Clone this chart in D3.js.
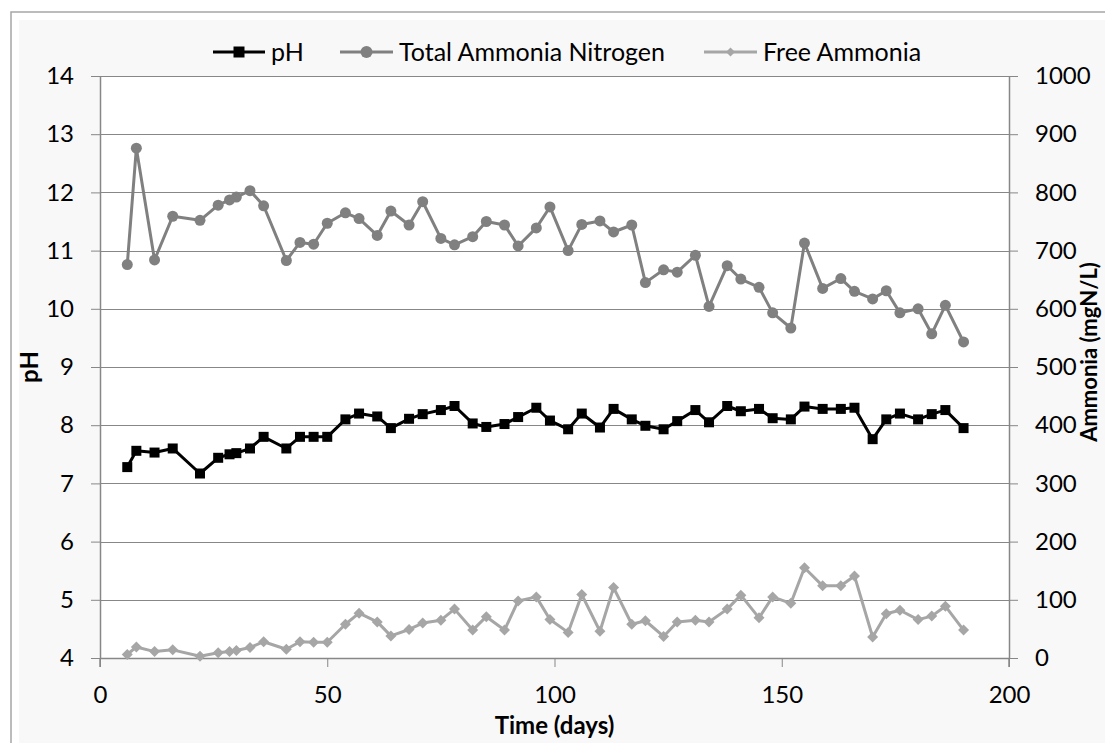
<!DOCTYPE html>
<html lang="en">
<head>
    <meta charset="UTF-8">
    <title>pH and Ammonia over time</title>
    <script src="https://d3js.org/d3.v7.min.js"></script>
    <style>
        body { margin: 0; background: #ffffff; }
        svg text { font-family: Lato, "Open Sans", sans-serif; fill: #000; }
    </style>
</head>
<body>
    <div id="chart-container"></div>
    <script>
        // sampling days (shared by all three series)
        const days = [6, 8, 12, 16, 22, 26, 28.5, 30, 33, 36, 41, 44, 47, 50, 54, 57, 61, 64, 68, 71,
            75, 78, 82, 85, 89, 92, 96, 99, 103, 106, 110, 113, 117, 120, 124, 127, 131, 134, 138, 141,
            145, 148, 152, 155, 159, 163, 166, 170, 173, 176, 180, 183, 186, 190];

        const phValues = [7.28, 7.56, 7.53, 7.60, 7.17, 7.44, 7.50, 7.52, 7.60, 7.80, 7.60, 7.80, 7.80, 7.80,
            8.10, 8.20, 8.15, 7.95, 8.11, 8.19, 8.26, 8.33, 8.03, 7.97, 8.02, 8.14, 8.30, 8.08, 7.93, 8.20,
            7.96, 8.28, 8.10, 7.99, 7.93, 8.07, 8.26, 8.05, 8.33, 8.24, 8.28, 8.12, 8.10, 8.32, 8.28, 8.28,
            8.30, 7.76, 8.10, 8.20, 8.10, 8.19, 8.26, 7.95];

        // mgN/L
        const tanValues = [676, 876, 684, 759, 752, 778, 787, 792, 803, 777, 683, 714, 711, 747, 765, 755,
            726, 768, 744, 784, 721, 710, 724, 750, 744, 708, 739, 775, 700, 745, 751, 732, 744, 645, 667,
            663, 692, 604, 674, 651, 637, 593, 567, 713, 635, 652, 630, 617, 631, 593, 600, 557, 606, 543];

        const faValues = [6, 19, 11, 14, 3, 9, 11, 13, 18, 28, 15, 28, 27, 27, 58, 77, 62, 38, 49, 60, 65,
            84, 48, 71, 48, 98, 105, 66, 44, 109, 46, 121, 58, 64, 37, 62, 65, 62, 84, 108, 69, 105, 94,
            155, 124, 124, 141, 36, 76, 82, 66, 72, 89, 48];

        const phTicks = [4, 5, 6, 7, 8, 9, 10, 11, 12, 13, 14];
        const ammoniaTicks = [0, 100, 200, 300, 400, 500, 600, 700, 800, 900, 1000];
        const dayTicks = [0, 50, 100, 150, 200];

        const seriesNames = ["pH", "Total Ammonia Nitrogen", "Free Ammonia"];

        const width = 1105;
        const height = 743;
        const plot = { left: 100, right: 1009, top: 76, bottom: 658 };

        const svg = d3.select("#chart-container")
            .append("svg")
            .attr("width", width)
            .attr("height", height);

        // chart area with its border
        svg.append("rect")
            .attr("x", 11).attr("y", 12)
            .attr("width", width).attr("height", height)
            .attr("fill", "#ffffff")
            .attr("stroke", "#a6a6a6")
            .attr("stroke-width", 1.5);
        svg.append("rect")
            .attr("x", 19).attr("y", 20)
            .attr("width", width).attr("height", height)
            .attr("fill", "#f8f8f8");

        // plot area
        svg.append("rect")
            .attr("x", plot.left).attr("y", plot.top)
            .attr("width", plot.right - plot.left)
            .attr("height", plot.bottom - plot.top)
            .attr("fill", "#ffffff");

        const xScale = d3.scaleLinear().domain([0, 200]).range([plot.left, plot.right]);
        const yLeft = d3.scaleLinear().domain([4, 14]).range([plot.bottom, plot.top]);
        const yRight = d3.scaleLinear().domain([0, 1000]).range([plot.bottom, plot.top]);

        const gridColor = "#878787";

        // horizontal gridlines
        svg.append("g")
            .selectAll("line")
            .data(phTicks)
            .join("line")
            .attr("x1", plot.left).attr("x2", plot.right)
            .attr("y1", d => Math.round(yLeft(d)) + 0.5)
            .attr("y2", d => Math.round(yLeft(d)) + 0.5)
            .attr("stroke", gridColor)
            .attr("stroke-width", 1);

        // axes
        const leftAxis = svg.append("g")
            .attr("transform", `translate(${plot.left},0)`)
            .call(d3.axisLeft(yLeft).tickValues(phTicks).tickSize(9).tickSizeOuter(0).tickPadding(17));

        const rightAxis = svg.append("g")
            .attr("transform", `translate(${plot.right},0)`)
            .call(d3.axisRight(yRight).tickValues(ammoniaTicks).tickFormat(d3.format("d"))
                .tickSize(9).tickSizeOuter(0).tickPadding(17));

        const bottomAxis = svg.append("g")
            .attr("transform", `translate(0,${plot.bottom})`)
            .call(d3.axisBottom(xScale).tickValues(dayTicks).tickSize(9).tickSizeOuter(0).tickPadding(19));

        [leftAxis, rightAxis, bottomAxis].forEach(function (ax) {
            ax.select(".domain").attr("stroke", gridColor).attr("stroke-width", 1.5);
            ax.selectAll(".tick line").attr("stroke", gridColor).attr("stroke-width", 1);
            ax.selectAll(".tick text")
                .attr("font-size", 24)
                .attr("font-family", "Lato, sans-serif")
                .attr("fill", "#000");
        });

        // axis lines run down to the bottom tick
        svg.append("line")
            .attr("x1", plot.left).attr("x2", plot.left)
            .attr("y1", plot.bottom).attr("y2", plot.bottom + 9)
            .attr("stroke", gridColor).attr("stroke-width", 1.5);
        svg.append("line")
            .attr("x1", plot.right).attr("x2", plot.right)
            .attr("y1", plot.bottom).attr("y2", plot.bottom + 9)
            .attr("stroke", gridColor).attr("stroke-width", 1.5);

        // axis titles
        svg.append("text")
            .attr("x", (plot.left + plot.right) / 2)
            .attr("y", 734)
            .attr("text-anchor", "middle")
            .attr("font-size", 24)
            .attr("font-weight", "bold")
            .text("Time (days)");

        svg.append("text")
            .attr("transform", `translate(38,${yLeft(9)}) rotate(-90)`)
            .attr("text-anchor", "middle")
            .attr("font-size", 24)
            .attr("font-weight", "bold")
            .text("pH");

        svg.append("text")
            .attr("transform", `translate(1097,352) rotate(-90)`)
            .attr("text-anchor", "middle")
            .attr("font-size", 22)
            .attr("font-weight", "bold")
            .text("Ammonia (mgN/L)");

        // series
        const phData = days.map((d, i) => ({ day: d, value: phValues[i] }));
        const tanData = days.map((d, i) => ({ day: d, value: tanValues[i] }));
        const faData = days.map((d, i) => ({ day: d, value: faValues[i] }));

        const diamond = function (cx, cy, r) {
            return `M${cx},${cy - r}L${cx + r},${cy}L${cx},${cy + r}L${cx - r},${cy}Z`;
        };

        const phLine = d3.line().x(d => xScale(d.day)).y(d => yLeft(d.value));
        const ammLine = d3.line().x(d => xScale(d.day)).y(d => yRight(d.value));

        // pH
        svg.append("path")
            .datum(phData)
            .attr("d", phLine)
            .attr("fill", "none")
            .attr("stroke", "#000000")
            .attr("stroke-width", 3)
            .attr("stroke-linejoin", "round");
        svg.append("g")
            .selectAll("rect")
            .data(phData)
            .join("rect")
            .attr("x", d => xScale(d.day) - 5)
            .attr("y", d => yLeft(d.value) - 5)
            .attr("width", 10).attr("height", 10)
            .attr("fill", "#000000");

        // total ammonia nitrogen
        svg.append("path")
            .datum(tanData)
            .attr("d", ammLine)
            .attr("fill", "none")
            .attr("stroke", "#808080")
            .attr("stroke-width", 3)
            .attr("stroke-linejoin", "round");
        svg.append("g")
            .selectAll("circle")
            .data(tanData)
            .join("circle")
            .attr("cx", d => xScale(d.day))
            .attr("cy", d => yRight(d.value))
            .attr("r", 5.5)
            .attr("fill", "#808080");

        // free ammonia
        svg.append("path")
            .datum(faData)
            .attr("d", ammLine)
            .attr("fill", "none")
            .attr("stroke", "#a6a6a6")
            .attr("stroke-width", 3)
            .attr("stroke-linejoin", "round");
        svg.append("g")
            .selectAll("path")
            .data(faData)
            .join("path")
            .attr("d", d => diamond(xScale(d.day), yRight(d.value), 5.5))
            .attr("fill", "#a6a6a6");

        // legend
        const legendY = 52;
        const legendItems = [
            { name: seriesNames[0], x1: 213, x2: 265, color: "#000000", marker: "square" },
            { name: seriesNames[1], x1: 340, x2: 393, color: "#808080", marker: "circle" },
            { name: seriesNames[2], x1: 704, x2: 757, color: "#a6a6a6", marker: "diamond" }
        ];
        const legend = svg.append("g");
        legendItems.forEach(function (item) {
            const mid = (item.x1 + item.x2) / 2;
            legend.append("line")
                .attr("x1", item.x1).attr("x2", item.x2)
                .attr("y1", legendY).attr("y2", legendY)
                .attr("stroke", item.color)
                .attr("stroke-width", 3);
            if (item.marker == "square") {
                legend.append("rect")
                    .attr("x", mid - 5.5).attr("y", legendY - 5.5)
                    .attr("width", 11).attr("height", 11)
                    .attr("fill", item.color);
            }
            if (item.marker == "circle") {
                legend.append("circle")
                    .attr("cx", mid).attr("cy", legendY).attr("r", 6)
                    .attr("fill", item.color);
            }
            if (item.marker == "diamond") {
                legend.append("path")
                    .attr("d", diamond(mid, legendY, 4.5))
                    .attr("fill", item.color);
            }
            legend.append("text")
                .attr("x", item.x2 + 6)
                .attr("y", legendY)
                .attr("dy", "0.35em")
                .attr("font-size", 25)
                .text(item.name);
        });
    </script>
</body>
</html>
